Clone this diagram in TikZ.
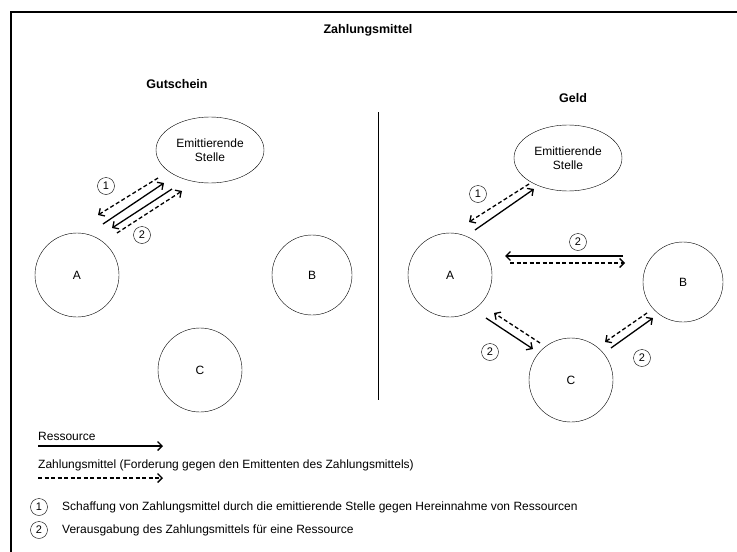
\documentclass[tikz,border=0pt]{standalone}
\usepackage{fontspec}
\setmainfont{Liberation Sans}
\usetikzlibrary{arrows.meta,shapes.geometric}
\tikzset{
  party/.style={draw,circle,minimum size=84pt,font=\fontsize{12}{14}\selectfont},
  issuer/.style={draw,ellipse,minimum width=108pt,minimum height=66pt,inner sep=0pt,align=center,
    font=\fontsize{12}{14}\selectfont},
  res/.style={line width=1.3pt,-{Straight Barb[length=4.5pt,width=9pt]}},
  pay/.style={res,dash pattern=on 4pt off 2.5pt},
  num/.style={draw,circle,minimum size=17pt,inner sep=0pt,font=\fontsize{11}{11}\selectfont},
  head/.style={font=\bfseries\fontsize{12.5}{14}\selectfont},
  txt/.style={anchor=west,inner sep=0pt,font=\fontsize{12}{14}\selectfont}
}
\begin{document}
\begin{tikzpicture}[x=1pt,y=-1pt]
  \useasboundingbox (0,0) rectangle (737,552);
  \draw [line width=2pt] (11,560) -- (11,12) -- (745,12);
  \node [head] (title) at (368,30) {Zahlungsmittel};
  \node [head] (gut) at (177,84) {Gutschein};
  \node [head] (geld) at (573,98) {Geld};
  \draw (378,112) -- (378,400);

  % Gutschein
  \node [issuer] (e1) at (210,150) {Emittierende\\Stelle};
  \node [party] (a1) at (77,275) {A};
  \node [party,minimum size=80pt] (b1) at (312,275) {B};
  \node [party] (c1) at (200,370) {C};
  \coordinate (e1p) at (158,178); \coordinate (a1p) at (98,215);
  \coordinate (a1r) at (103,224); \coordinate (e1r) at (164,183);
  \coordinate (e1q) at (172,189); \coordinate (a1q) at (112,228);
  \coordinate (a1s) at (117,233); \coordinate (e1s) at (182,191);
  \draw [pay] (e1p) -- (a1p);
  \draw [res] (a1r) -- (e1r);
  \draw [res] (e1q) -- (a1q);
  \draw [pay] (a1s) -- (e1s);
  \node [num] (n1l) at (106,186) {1};
  \node [num] (n2l) at (142,235) {2};

  % Geld
  \node [issuer] (e2) at (568,158) {Emittierende\\Stelle};
  \node [party] (a2) at (450,275) {A};
  \node [party,minimum size=80pt] (b2) at (683,282) {B};
  \node [party] (c2) at (571,380) {C};
  \coordinate (e2p) at (529,184); \coordinate (a2p) at (469,222);
  \coordinate (a2r) at (475,230); \coordinate (e2r) at (534,189);
  \draw [pay] (e2p) -- (a2p);
  \draw [res] (a2r) -- (e2r);
  \node [num] (n1r) at (478,194) {1};
  \coordinate (b2r) at (623,256); \coordinate (a2t) at (505,256);
  \coordinate (a2u) at (510,263); \coordinate (b2u) at (625,263);
  \draw [res] (b2r) -- (a2t);
  \draw [pay] (a2u) -- (b2u);
  \node [num] (n2r) at (578,242) {2};
  \coordinate (a2v) at (486,318); \coordinate (c2v) at (533,349);
  \coordinate (c2w) at (540,343); \coordinate (a2w) at (494,313);
  \draw [res] (a2v) -- (c2v);
  \draw [pay] (c2w) -- (a2w);
  \node [num] (n2ac) at (490,352) {2};
  \coordinate (c2x) at (611,348); \coordinate (b2x) at (653,318);
  \coordinate (b2y) at (647,313); \coordinate (c2y) at (605,342);
  \draw [res] (c2x) -- (b2x);
  \draw [pay] (b2y) -- (c2y);
  \node [num] (n2cb) at (642,358) {2};

  % Legende
  \node [txt] (lres) at (38,436) {Ressource};
  \coordinate (lr0) at (38,446); \coordinate (lr1) at (163,446);
  \draw [res] (lr0) -- (lr1);
  \node [txt] (lpay) at (38,465) {Zahlungsmittel (Forderung gegen den Emittenten des Zahlungsmittels)};
  \coordinate (lp0) at (38,478); \coordinate (lp1) at (163,478);
  \draw [pay] (lp0) -- (lp1);
  \node [num] (k1) at (39,507) {1};
  \node [txt] (t1) at (62,507) {Schaffung von Zahlungsmittel durch die emittierende Stelle gegen Hereinnahme von Ressourcen};
  \node [num] (k2) at (39,530) {2};
  \node [txt] (t2) at (62,530) {Verausgabung des Zahlungsmittels für eine Ressource};
\end{tikzpicture}
\end{document}
